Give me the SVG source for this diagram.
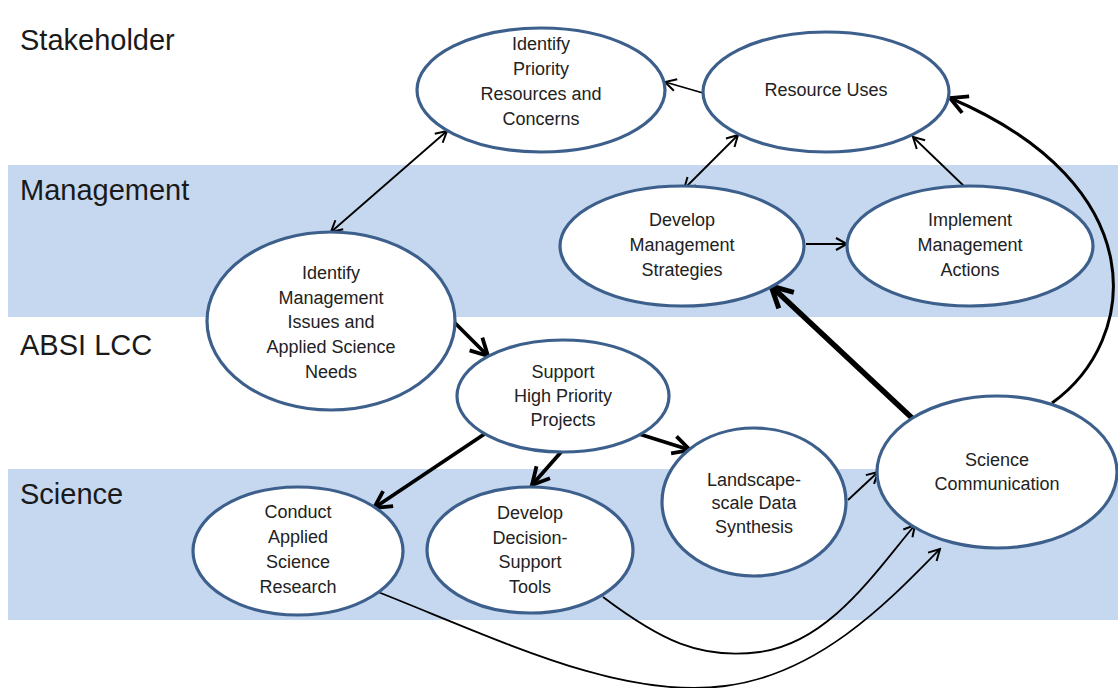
<svg xmlns="http://www.w3.org/2000/svg" width="1118" height="688" viewBox="0 0 1118 688">
<style>
.band{fill:#c5d8ef}
.lane{font-family:"Liberation Sans",Arial,sans-serif;font-size:29px;fill:#1a1a1a}
.node ellipse{fill:#ffffff;stroke:#3d5f8c;stroke-width:3.2}
.node text{font-family:"Liberation Sans",Arial,sans-serif;font-size:18px;fill:#222;text-anchor:middle}
.c{fill:none;stroke:#000}
.thin{stroke-width:1.8}
.thick{stroke-width:3.8}
.xthick{stroke-width:5.5}
.mid{stroke-width:3}
</style>
<defs>
<marker id="aThin" markerUnits="userSpaceOnUse" markerWidth="16" markerHeight="16" viewBox="0 0 16 16" refX="14" refY="8" orient="auto-start-reverse"><path d="M3,2 L14,8 L3,14" fill="none" stroke="#000" stroke-width="2"/></marker>
<marker id="aThick" markerUnits="userSpaceOnUse" markerWidth="24" markerHeight="24" viewBox="0 0 24 24" refX="21" refY="12" orient="auto"><path d="M4,3 L21,12 L4,21" fill="none" stroke="#000" stroke-width="3.8"/></marker>
<marker id="aX" markerUnits="userSpaceOnUse" markerWidth="30" markerHeight="30" viewBox="0 0 30 30" refX="26" refY="15" orient="auto"><path d="M5,4 L26,15 L5,26" fill="none" stroke="#000" stroke-width="5"/></marker>
</defs>
<rect width="1118" height="688" fill="#ffffff"/>
<g id="lanes">
<rect class="band" x="8" y="165" width="1110" height="152"/>
<rect class="band" x="8" y="469" width="1110" height="151"/>
<text class="lane" x="20" y="50">Stakeholder</text>
<text class="lane" x="20" y="200">Management</text>
<text class="lane" x="20" y="355">ABSI LCC</text>
<text class="lane" x="20" y="504">Science</text>
</g>
<g id="connectors">
<path class="c thin" d="M447,131 L331,232" marker-start="url(#aThin)" marker-end="url(#aThin)"/>
<path class="c thin" d="M703,93 L665,82" marker-end="url(#aThin)"/>
<path class="c thin" d="M738,135 L684,189" marker-start="url(#aThin)" marker-end="url(#aThin)"/>
<path class="c thin" d="M967,189 L913,137" marker-end="url(#aThin)"/>
<path class="c thin" d="M806,244 L847,244" marker-end="url(#aThin)"/>
<path class="c thick" d="M452,320 L488,356" marker-end="url(#aThick)"/>
<path class="c thick" d="M486,433 L374,508" marker-end="url(#aThick)"/>
<path class="c thick" d="M562,451 L532,485" marker-end="url(#aThick)"/>
<path class="c thick" d="M636,433 L690,450" marker-end="url(#aThick)"/>
<path class="c thin" d="M848,500 L878,472" marker-end="url(#aThin)"/>
<path class="c xthick" d="M912,418 L771,286" marker-end="url(#aX)"/>
<path class="c mid" d="M1052,403 C1140,340 1155,185 950,98" marker-end="url(#aThick)"/>
<path class="c thin" d="M373,590 C500,640 620,700 725,686 C820,674 890,600 940,549" marker-end="url(#aThin)"/>
<path class="c thin" d="M603,597 C660,640 700,660 760,652 C830,642 875,572 915,525" marker-end="url(#aThin)"/>
</g>
<g id="n-priority" class="node"><ellipse cx="541" cy="90" rx="124" ry="62"/>
<text x="541" y="50">Identify</text><text x="541" y="75">Priority</text><text x="541" y="100">Resources and</text><text x="541" y="125">Concerns</text></g>
<g id="n-resource" class="node"><ellipse cx="826" cy="92" rx="123" ry="60"/>
<text x="826" y="96">Resource Uses</text></g>
<g id="n-strategies" class="node"><ellipse cx="682" cy="246" rx="122" ry="60"/>
<text x="682" y="226">Develop</text><text x="682" y="251">Management</text><text x="682" y="276">Strategies</text></g>
<g id="n-actions" class="node"><ellipse cx="970" cy="246" rx="123" ry="60"/>
<text x="970" y="226">Implement</text><text x="970" y="251">Management</text><text x="970" y="276">Actions</text></g>
<g id="n-issues" class="node"><ellipse cx="331" cy="321" rx="124" ry="89"/>
<text x="331" y="279">Identify</text><text x="331" y="304">Management</text><text x="331" y="328">Issues and</text><text x="331" y="353">Applied Science</text><text x="331" y="378">Needs</text></g>
<g id="n-support" class="node"><ellipse cx="563" cy="396" rx="106" ry="56"/>
<text x="563" y="378">Support</text><text x="563" y="402">High Priority</text><text x="563" y="426">Projects</text></g>
<g id="n-research" class="node"><ellipse cx="298" cy="551" rx="105" ry="64"/>
<text x="298" y="518">Conduct</text><text x="298" y="543">Applied</text><text x="298" y="568">Science</text><text x="298" y="593">Research</text></g>
<g id="n-tools" class="node"><ellipse cx="530" cy="550" rx="103" ry="63"/>
<text x="530" y="519">Develop</text><text x="530" y="544">Decision-</text><text x="530" y="568">Support</text><text x="530" y="593">Tools</text></g>
<g id="n-landscape" class="node"><ellipse cx="754" cy="502" rx="92" ry="74"/>
<text x="754" y="486">Landscape-</text><text x="754" y="509">scale Data</text><text x="754" y="533">Synthesis</text></g>
<g id="n-comm" class="node"><ellipse cx="997" cy="472" rx="120" ry="76"/>
<text x="997" y="466">Science</text><text x="997" y="490">Communication</text></g>
</svg>
